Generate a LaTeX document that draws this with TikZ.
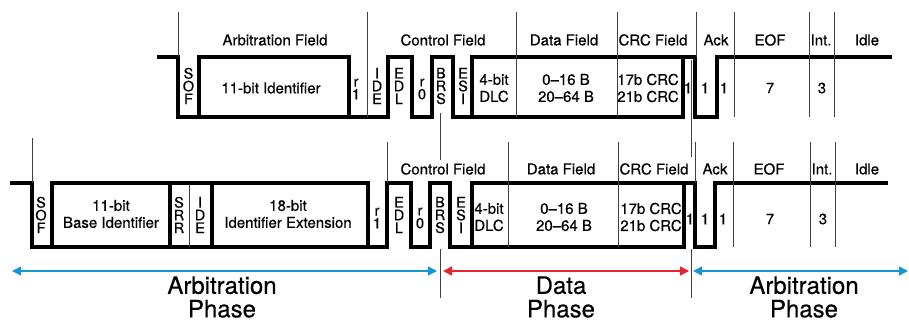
\documentclass[tikz,border=0pt]{standalone}
\usepackage{fontspec}
\setmainfont{TeX Gyre Heros}[FakeBold=0.4]
\usetikzlibrary{arrows.meta}
\definecolor{phblue}{RGB}{22,150,212}
\definecolor{phred}{RGB}{232,34,46}
\tikzset{
  sig/.style={line width=3.6pt, line join=miter},
  sep/.style={line width=0.9pt, black!75},
  fieldlbl/.style={font=\fontsize{15}{17}\selectfont, inner sep=0pt},
  bitlbl/.style={font=\fontsize{14.5}{12.8}\selectfont, align=center, inner sep=0pt},
  twolbl/.style={font=\fontsize{15}{17}\selectfont, align=center, inner sep=0pt},
  phaselbl/.style={font=\fontsize{24}{23.5}\selectfont, align=center, inner sep=0pt}
}
\begin{document}
\begin{tikzpicture}[x=1pt, y=-1pt, >={Triangle[length=9pt,width=9pt]}]
	\useasboundingbox (0,0) rectangle (909,321);
	% top frame: signal
	\draw[sig] (157,57) -- (178,57) -- (178,117) -- (388,117) -- (388,57) -- (412,57) -- (412,117)
		-- (432,117) -- (432,57) -- (453,57) -- (453,117) -- (683,117) -- (683,57) -- (695,57)
		-- (695,117) -- (717,117) -- (717,57) -- (892,57);
	\draw[sig] (199,117) -- (199,57) -- (349,57) -- (349,117);
	\draw[sig] (472,117) -- (472,57) -- (683,57);
	% top frame: field borders
	\foreach \x/\y in {178/57, 367/117, 516/117, 617/117, 696/57, 734/117, 809/117, 834/117}
		\draw[sep] (\x,12) -- (\x,\y);
	\node[fieldlbl] (arbT) at (275,40) {Arbitration Field};
	\node[fieldlbl] (ctlT) at (443,40) {Control Field};
	\node[fieldlbl] (datT) at (564,40) {Data Field};
	\node[fieldlbl] (crcT) at (653,40) {CRC Field};
	\node[fieldlbl] (ackT) at (716,40) {Ack};
	\node[fieldlbl] (eofT) at (770,40) {EOF};
	\node[fieldlbl] (intT) at (821,40) {Int.};
	\node[fieldlbl] (idlT) at (867,40) {Idle};
	\node[bitlbl] (sofT) at (188.5,86) {S\\O\\F};
	\node[twolbl] (idT) at (271,88) {11-bit Identifier};
	\node[bitlbl] (ronT) at (356,89) {r\\1};
	\node[bitlbl] (ideT) at (377,86) {I\\D\\E};
	\node[bitlbl] (edlT) at (399,86) {E\\D\\L};
	\node[bitlbl] (rzeT) at (422,89) {r\\0};
	\node[bitlbl] (brsT) at (441,86) {B\\R\\S};
	\node[bitlbl] (esiT) at (463,86) {E\\S\\I};
	\node[twolbl] (dlcT) at (494,88) {4-bit\\DLC};
	\node[twolbl] (byT) at (566,88) {0--16 B\\20--64 B};
	\node[twolbl] (crcbT) at (648,88) {17b CRC\\21b CRC};
	\node[twolbl] (cdT) at (688,88) {1};
	\node[twolbl] (asT) at (705,88) {1};
	\node[twolbl] (adT) at (724,88) {1};
	\node[twolbl] (sevT) at (770,88) {7};
	\node[twolbl] (thrT) at (822,88) {3};
	% bottom frame: signal
	\draw[sig] (10,183) -- (32,183) -- (32,247) -- (387,247) -- (387,183) -- (411,183) -- (411,247)
		-- (430,247) -- (430,183) -- (450,183) -- (450,247) -- (684,247) -- (684,183) -- (695,183)
		-- (695,247) -- (715,247) -- (715,183) -- (888,183);
	\draw[sig] (52,247) -- (52,183) -- (368,183) -- (368,247);
	\draw[sig] (170,183) -- (170,247);
	\draw[sig] (212,183) -- (212,247);
	\draw[sig] (472,247) -- (472,183) -- (684,183);
	% bottom frame: field borders
	\draw[sep] (32,138) -- (32,183);
	\draw[sep] (189,185) -- (189,247);
	\foreach \x/\y in {387/183, 508/247, 618/247, 695/183, 733/247, 810/247, 835/247}
		\draw[sep] (\x,142) -- (\x,\y);
	\node[fieldlbl] (ctlB) at (443,169) {Control Field};
	\node[fieldlbl] (datB) at (561,169) {Data Field};
	\node[fieldlbl] (crcB) at (654,169) {CRC Field};
	\node[fieldlbl] (ackB) at (715,169) {Ack};
	\node[fieldlbl] (eofB) at (769,169) {EOF};
	\node[fieldlbl] (intB) at (822,169) {Int.};
	\node[fieldlbl] (idlB) at (867,169) {Idle};
	\node[bitlbl] (sofB) at (41,215) {S\\O\\F};
	\node[twolbl] (idB) at (111,214) {11-bit\\Base Identifier};
	\node[bitlbl] (srrB) at (179,215) {S\\R\\R};
	\node[bitlbl] (ideB) at (200,215) {I\\D\\E};
	\node[twolbl] (extB) at (288,214) {18-bit\\Identifier Extension};
	\node[bitlbl] (ronB) at (377,218) {r\\1};
	\node[bitlbl] (edlB) at (399,215) {E\\D\\L};
	\node[bitlbl] (rzeB) at (420,218) {r\\0};
	\node[bitlbl] (brsB) at (440,215) {B\\R\\S};
	\node[bitlbl] (esiB) at (461,215) {E\\S\\I};
	\node[twolbl] (dlcB) at (489,217) {4-bit\\DLC};
	\node[twolbl] (byB) at (564,217) {0--16 B\\20--64 B};
	\node[twolbl] (crcbB) at (651,217) {17b CRC\\21b CRC};
	\node[twolbl] (cdB) at (690,219) {1};
	\node[twolbl] (asB) at (705,219) {1};
	\node[twolbl] (adB) at (723,219) {1};
	\node[twolbl] (sevB) at (770,219) {7};
	\node[twolbl] (thrB) at (823,219) {3};
	% phase borders
	\draw[sep] (440,113) -- (440,160);
	\draw[sep] (691,60) -- (691,157);
	\draw[sep] (440,249) -- (440,298);
	\draw[sep] (691,249) -- (691,298);
	\coordinate (pa) at (12,271);
	\coordinate (pb) at (437,271);
	\coordinate (pc) at (443,271);
	\coordinate (pd) at (689,271);
	\coordinate (pe) at (693,271);
	\coordinate (pf) at (908,271);
	\draw[<->, line width=1.6pt, phblue] (pa) -- (pb);
	\draw[<->, line width=1.6pt, phred] (pc) -- (pd);
	\draw[<->, line width=1.6pt, phblue] (pe) -- (pf);
	\node[phaselbl] (arbP) at (222,297) {Arbitration\\Phase};
	\node[phaselbl] (datP) at (561,297) {Data\\Phase};
	\node[phaselbl] (arbQ) at (804,297) {Arbitration\\Phase};
\end{tikzpicture}
\end{document}
